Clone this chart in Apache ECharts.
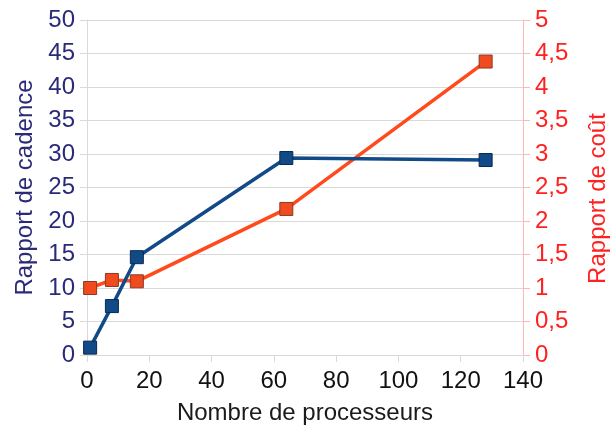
<!DOCTYPE html>
<html>
<head>
<meta charset="utf-8">
<script src="https://cdn.jsdelivr.net/npm/echarts@6/dist/echarts.min.js"></script>
<style>
	html, body { margin: 0; padding: 0; background: #fff; }
	#chart { width: 610px; height: 432px; }
</style>
</head>
<body>
<div id="chart"></div>
<script>
	// processeurs / cadence / coût
	var processors = [1, 8, 16, 64, 128];
	var cadence = [1.1, 7.3, 14.6, 29.4, 29.1];
	var cost = [1.0, 1.12, 1.1, 2.18, 4.38];

	var font = 'Liberation Sans';
	var pairs = function(xs, ys){
		return xs.map(function(x, i){ return [x, ys[i]]; });
	};

	var chart = echarts.init(document.getElementById('chart'));
	chart.setOption({
		animation: false,
		grid: { left: 87, right: 87, top: 20, bottom: 77, outerBoundsMode: 'none', containLabel: false },
		xAxis: {
			type: 'value',
			min: 0, max: 140, interval: 20,
			name: 'Nombre de processeurs',
			nameLocation: 'middle',
			nameGap: 46,
			nameTextStyle: { fontFamily: font, fontSize: 24, color: '#1a1a1a' },
			axisLine: { show: true, lineStyle: { color: '#d9d9d9' } },
			axisTick: { show: true, length: 7, lineStyle: { color: '#d9d9d9' } },
			axisLabel: { fontFamily: font, fontSize: 24, color: '#111', margin: 14 },
			splitLine: { show: false }
		},
		yAxis: [{
			type: 'value',
			position: 'left',
			min: 0, max: 50, interval: 5,
			name: 'Rapport de cadence',
			nameLocation: 'middle',
			nameGap: 50,
			nameTextStyle: { fontFamily: font, fontSize: 24, color: '#2a2a78' },
			axisLine: { show: true, lineStyle: { color: '#d9d9d9' } },
			axisTick: { show: true, length: 7, lineStyle: { color: '#d9d9d9' } },
			axisLabel: { fontFamily: font, fontSize: 24, color: '#2a2a78', margin: 12 },
			splitLine: { show: true, lineStyle: { color: '#d9d9d9' } }
		}, {
			type: 'value',
			position: 'right',
			min: 0, max: 5, interval: 0.5,
			name: 'Rapport de coût',
			nameLocation: 'middle',
			nameGap: 63,
			nameRotate: 90,
			nameTextStyle: { fontFamily: font, fontSize: 24, color: '#ff2020', padding: [0, 22, 0, 0] },
			axisLine: { show: true, lineStyle: { color: '#ffb8b8' } },
			axisTick: { show: true, length: 7, lineStyle: { color: '#ffb8b8' } },
			axisLabel: {
				fontFamily: font, fontSize: 24, color: '#ff2020', margin: 12,
				formatter: function(v){ return String(v).replace('.', ','); }
			},
			splitLine: { show: false }
		}],
		series: [{
			name: 'Rapport de coût',
			type: 'line',
			yAxisIndex: 1,
			data: pairs(processors, cost),
			symbol: 'rect',
			symbolSize: 13,
			lineStyle: { color: '#ff4a1c', width: 3.5 },
			itemStyle: { color: '#f04a1e', borderColor: '#8a3a26', borderWidth: 1 },
			z: 2
		}, {
			name: 'Rapport de cadence',
			type: 'line',
			yAxisIndex: 0,
			data: pairs(processors, cadence),
			symbol: 'rect',
			symbolSize: 13,
			lineStyle: { color: '#114a86', width: 3.5 },
			itemStyle: { color: '#114a86', borderColor: '#0a2a50', borderWidth: 1 },
			z: 3
		}]
	});
</script>
</body>
</html>
